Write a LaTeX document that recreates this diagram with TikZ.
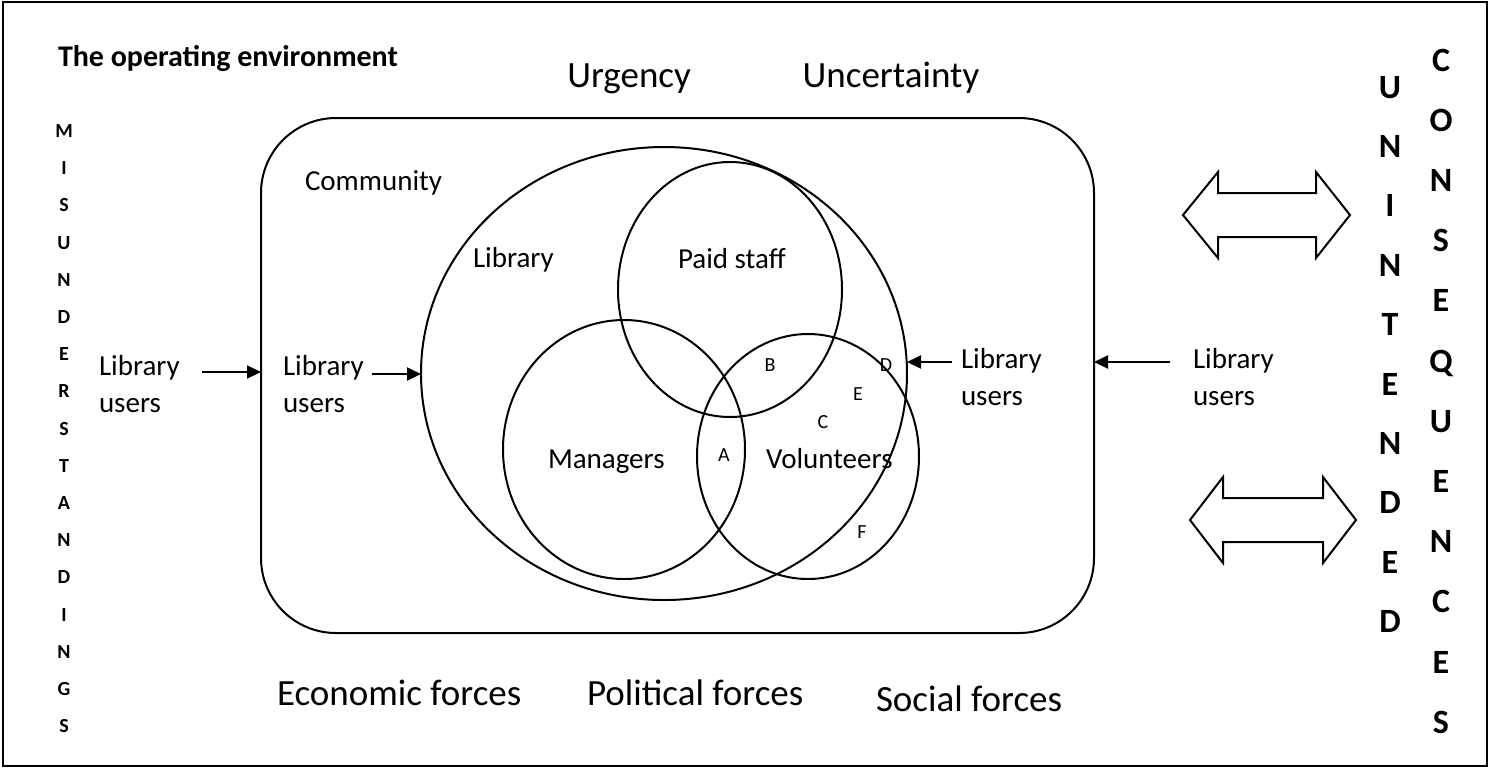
\documentclass[tikz,border=0pt]{standalone}
\usepackage{fontspec}
\setmainfont{Carlito}
\usetikzlibrary{arrows.meta,shapes.geometric}
\begin{document}
\begin{tikzpicture}[x=0.5pt,y=-0.5pt,
  line width=1pt,
  txt/.style={font=\fontsize{14.5}{18.5}\selectfont, inner sep=0pt, anchor=base west},
  big/.style={font=\fontsize{18.5}{22}\selectfont, inner sep=0pt, anchor=base west},
  lab/.style={font=\fontsize{10}{12}\selectfont, inner sep=0pt},
  vsmall/.style={font=\fontsize{10}{12}\selectfont\bfseries, inner sep=0pt, anchor=base},
  vbig/.style={font=\fontsize{17}{20}\selectfont\bfseries, inner sep=0pt, anchor=base},
  set/.style={draw, ellipse, inner sep=0pt, outer sep=0pt},
  arr/.style={-{Triangle[length=7pt,width=6.5pt]}, line width=1pt},
  dbl/.style={draw, line width=1pt}
]
\useasboundingbox (0,0) rectangle (1490,768);
\node[draw, line width=1.2pt, minimum width=742pt, minimum height=382pt, inner sep=0pt, outer sep=0pt] (frame) at (745,384) {};

% title and headings
\node[font=\fontsize{15}{18}\selectfont\bfseries, inner sep=0pt, anchor=base west] (title) at (57,66) {The operating environment};
\node[big, anchor=base] (urg) at (629,87) {Urgency};
\node[big, anchor=base] (unc) at (891,87) {Uncertainty};
\node[big] (eco) at (276,705) {Economic forces};
\node[big] (pol) at (586,705) {Political forces};
\node[big] (soc) at (875,711) {Social forces};

% community box
\node[draw, rounded corners=37.5pt, minimum width=416.5pt, minimum height=257.5pt, inner sep=0pt, outer sep=0pt] (comm) at (677.5,375.5) {};
\node[txt] (commlbl) at (304,190) {Community};

% sets
\node[set, minimum width=243pt, minimum height=226.5pt] (lib) at (664,373.5) {};
\node[set, minimum width=112pt, minimum height=127.5pt] (paid) at (730,289.5) {};
\node[set, minimum width=121pt, minimum height=129.5pt] (man) at (624,449.5) {};
\node[set, minimum width=111pt, minimum height=122.5pt] (vol) at (808,456.5) {};

\node[txt] (liblbl) at (472,267) {Library};
\node[txt] (paidlbl) at (677,268) {Paid staff};
\node[txt] (manlbl) at (547,468) {Managers};
\node[txt] (vollbl) at (765,468) {Volunteers};

\node[lab] (la) at (724,455) {A};
\node[lab] (lb) at (770,365) {B};
\node[lab] (lc) at (823,422) {C};
\node[lab] (ld) at (886,365) {D};
\node[lab] (le) at (858,394) {E};
\node[lab] (lf) at (862,532) {F};

% library users
\node[txt] (lu1) at (98,375) {\begin{tabular}[t]{@{}l@{}}Library\\users\end{tabular}};
\node[txt] (lu2) at (282,375) {\begin{tabular}[t]{@{}l@{}}Library\\users\end{tabular}};
\node[txt] (lu3) at (960,368) {\begin{tabular}[t]{@{}l@{}}Library\\users\end{tabular}};
\node[txt] (lu4) at (1192,368) {\begin{tabular}[t]{@{}l@{}}Library\\users\end{tabular}};

\coordinate (a1) at (202,372);
\coordinate (a2) at (372,374);
\coordinate (a3) at (952,362);
\coordinate (a4) at (1170,362);
\draw[arr] (a1) -- (a1 -| comm.west);
\draw[arr] (a2) -- (a2 -| lib.west);
\draw[arr] (a3) -- (a3 -| lib.east);
\draw[arr] (a4) -- (a4 -| comm.east);

% double arrows
\draw[dbl] (1183,215) -- (1218,172) -- (1218,193) -- (1316,193) -- (1316,172) -- (1350,215) -- (1316,258) -- (1316,237) -- (1218,237) -- (1218,258) -- cycle;
\draw[dbl] (1190,520) -- (1223,477) -- (1223,498) -- (1323,498) -- (1323,477) -- (1356,520) -- (1323,563) -- (1323,542) -- (1223,542) -- (1223,563) -- cycle;

% vertical words
\foreach \l [count=\i from 0] in {M,I,S,U,N,D,E,R,S,T,A,N,D,I,N,G,S}
  \node[vsmall] (mis\i) at (64,137.4+\i*37.2) {\l};
\foreach \l [count=\i from 0] in {U,N,I,N,T,E,N,D,E,D}
  \node[vbig] (un\i) at (1390,98+\i*59.4) {\l};
\foreach \l [count=\i from 0] in {C,O,N,S,E,Q,U,E,N,C,E,S}
  \node[vbig] (con\i) at (1441,71+\i*60.2) {\l};
\end{tikzpicture}
\end{document}
